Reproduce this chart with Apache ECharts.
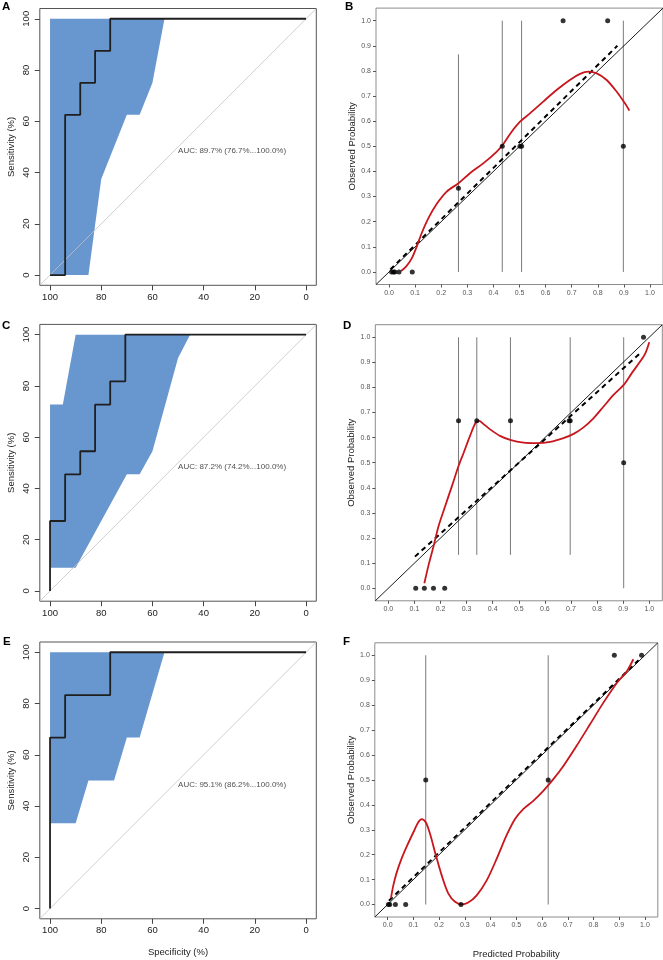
<!DOCTYPE html>
<html>
<head>
<meta charset="utf-8">
<script src="https://cdn.jsdelivr.net/npm/echarts@6/dist/echarts.min.js"></script>
<style>html,body{margin:0;padding:0;background:#fff}#c{width:663px;height:960px}</style>
</head>
<body>
<div id="c"></div>
<script>
// ---------- DATA ----------
var panelLetters = ['A', 'B', 'C', 'D', 'E', 'F'];
var rocTicks = [0, 20, 40, 60, 80, 100];
var calTicks = [0, 0.1, 0.2, 0.3, 0.4, 0.5, 0.6, 0.7, 0.8, 0.9, 1.0];

// ROC curves (specificity %, sensitivity %)
var rocA = [[100,0],[94.1,0],[94.1,62.5],[88.2,62.5],[88.2,75],[82.4,75],[82.4,87.5],[76.5,87.5],[76.5,100],[0,100]];
var rocC = [[100,0],[100,27.3],[94.1,27.3],[94.1,45.5],[88.2,45.5],[88.2,54.5],[82.4,54.5],[82.4,72.7],[76.5,72.7],[76.5,81.8],[70.6,81.8],[70.6,100],[0,100]];
var rocE = [[100,0],[100,66.7],[94.1,66.7],[94.1,83.3],[76.5,83.3],[76.5,100],[0,100]];
// confidence band outlines
var ciA = [[100,0],[100,100],[55.3,100],[60,75],[65,62.5],[70,62.5],[80,37.5],[85,0]];
var ciC = [[100,9.1],[100,72.7],[95,72.7],[90,100],[45.3,100],[50,90.9],[60,54.5],[65,45.5],[70,45.5],[90,9.1]];
var ciE = [[100,33.3],[100,100],[55.3,100],[65,66.7],[70,66.7],[75,50],[85,50],[90,33.3]];
var aucA = 'AUC: 89.7% (76.7%...100.0%)';
var aucC = 'AUC: 87.2% (74.2%...100.0%)';
var aucE = 'AUC: 95.1% (86.2%...100.0%)';
var aucPos = [50, 50];
var rocDiag = [[104,-4],[-4,104]];

// Calibration panels
var calDiag = [[-0.05,-0.05],[1.05,1.05]];
var ptsB = [[0.010,0],[0.017,0],[0.022,0],[0.038,0],[0.089,0],[0.266,0.333],[0.434,0.5],[0.502,0.5],[0.508,0.5],[0.667,1],[0.838,1],[0.898,0.5]];
var barsB = [[0.266,0,0.866],[0.434,0,1],[0.508,0,1],[0.898,0,1]];
var fitB = [[0.005,0.01],[0.875,0.9]];
var smoothB = [[0.046,0.004],[0.065,0.021],[0.087,0.054],[0.106,0.101],[0.125,0.154],[0.151,0.214],[0.183,0.271],[0.221,0.320],[0.266,0.353],[0.310,0.393],[0.361,0.432],[0.413,0.479],[0.438,0.509],[0.470,0.558],[0.502,0.598],[0.540,0.631],[0.591,0.678],[0.642,0.724],[0.693,0.764],[0.732,0.788],[0.764,0.797],[0.796,0.790],[0.834,0.764],[0.872,0.718],[0.904,0.671],[0.921,0.642]];

var ptsD = [[0.105,0],[0.138,0],[0.173,0],[0.216,0],[0.269,0.667],[0.339,0.667],[0.468,0.667],[0.693,0.667],[0.697,0.667],[0.902,0.5],[0.978,1]];
var barsD = [[0.269,0.133,1],[0.339,0.133,1],[0.468,0.133,1],[0.697,0.133,1],[0.902,0,1]];
var fitD = [[0.102,0.126],[0.972,0.943]];
var smoothD = [[0.138,0.020],[0.156,0.100],[0.173,0.166],[0.192,0.246],[0.217,0.325],[0.243,0.405],[0.269,0.487],[0.288,0.538],[0.313,0.607],[0.335,0.660],[0.348,0.667],[0.364,0.655],[0.390,0.633],[0.428,0.607],[0.467,0.591],[0.518,0.580],[0.569,0.578],[0.620,0.583],[0.671,0.598],[0.710,0.615],[0.748,0.641],[0.786,0.677],[0.825,0.724],[0.863,0.770],[0.902,0.810],[0.933,0.857],[0.965,0.903],[0.985,0.936],[1.000,0.980]];

var ptsF = [[0.003,0],[0.008,0],[0.030,0],[0.070,0],[0.285,0],[0.148,0.5],[0.624,0.5],[0.881,1],[0.987,1]];
var barsF = [[0.148,0,1],[0.624,0,1]];
var fitF = [[0.005,0.015],[0.975,0.98]];
var smoothF = [[0.013,0.027],[0.022,0.077],[0.035,0.128],[0.054,0.184],[0.076,0.237],[0.100,0.290],[0.119,0.330],[0.132,0.343],[0.148,0.330],[0.165,0.283],[0.184,0.210],[0.210,0.117],[0.236,0.044],[0.262,0.011],[0.288,0.001],[0.313,0.008],[0.346,0.037],[0.385,0.097],[0.424,0.184],[0.462,0.277],[0.495,0.343],[0.527,0.383],[0.566,0.416],[0.605,0.456],[0.644,0.503],[0.683,0.556],[0.734,0.636],[0.786,0.722],[0.838,0.809],[0.890,0.888],[0.929,0.935],[0.955,0.984]];

// ---------- LAYOUT ----------
var FONT = 'Liberation Sans, Arial, Helvetica, sans-serif';
var grids = [
  {left: 39.8, top: 8.5,  width: 276.5, height: 276.8},   // A
  {left: 376,  top: 8.1,  width: 287,   height: 276.4},   // B
  {left: 39.8, top: 324.4,width: 276.5, height: 276.8},   // C
  {left: 375.3,top: 324.7,width: 287,   height: 276.1},   // D
  {left: 39.8, top: 642,  width: 276.5, height: 276.8},   // E
  {left: 374.8,top: 642.8,width: 283,   height: 274.7}    // F
];
var letterPos = [[2,1],[345,1],[2,320],[343,320],[3,636],[343,636]];

var gridOpts = grids.map(function (g, i) {
  var roc = (i % 2 === 0);
  return {left: g.left, top: g.top, width: g.width, height: g.height, show: true,
    borderColor: roc ? '#555' : '#8c8c8c', borderWidth: 1, backgroundColor: 'transparent', containLabel: false};
});

var xAxes = [], yAxes = [];
grids.forEach(function (g, i) {
  var roc = (i % 2 === 0);
  if (roc) {
    xAxes.push({type: 'value', gridIndex: i, min: -4, max: 104, inverse: true, position: 'bottom',
      axisLine: {show: false, onZero: false}, splitLine: {show: false},
      axisTick: {show: true, length: 5, lineStyle: {color: '#444'}, customValues: rocTicks},
      axisLabel: {show: true, customValues: rocTicks, margin: 7, fontSize: 9.5, color: '#222', fontFamily: FONT},
      name: i === 4 ? 'Specificity (%)' : '', nameLocation: 'middle', nameGap: 29,
      nameTextStyle: {fontSize: 9.5, color: '#222', fontFamily: FONT}});
    yAxes.push({type: 'value', gridIndex: i, min: -4, max: 104, position: 'left',
      axisLine: {show: false, onZero: false}, splitLine: {show: false},
      axisTick: {show: true, length: 5, lineStyle: {color: '#444'}, customValues: rocTicks},
      axisLabel: {show: true, customValues: rocTicks, rotate: 90, margin: 8, fontSize: 9.5, color: '#222', fontFamily: FONT},
      name: 'Sensitivity (%)', nameLocation: 'middle', nameGap: 23, nameRotate: 90,
      nameTextStyle: {fontSize: 9.5, color: '#222', fontFamily: FONT}});
  } else {
    var fmt = function (v) { return v.toFixed(1); };
    xAxes.push({type: 'value', gridIndex: i, min: -0.05, max: 1.05, position: 'bottom',
      axisLine: {show: false, onZero: false}, splitLine: {show: false},
      axisTick: {show: true, length: 3, lineStyle: {color: '#555'}, customValues: calTicks},
      axisLabel: {show: true, customValues: calTicks, formatter: fmt, margin: 5, fontSize: 7, color: '#555', fontFamily: FONT},
      name: i === 5 ? 'Predicted Probability' : '', nameLocation: 'middle', nameGap: 32,
      nameTextStyle: {fontSize: 9.5, color: '#222', fontFamily: FONT}});
    yAxes.push({type: 'value', gridIndex: i, min: -0.05, max: 1.05, position: 'left',
      axisLine: {show: false, onZero: false}, splitLine: {show: false},
      axisTick: {show: true, length: 3, lineStyle: {color: '#555'}, customValues: calTicks},
      axisLabel: {show: true, customValues: calTicks, formatter: fmt, margin: 5, fontSize: 7, color: '#555', fontFamily: FONT},
      name: 'Observed Probability', nameLocation: 'middle', nameGap: 14, nameRotate: 90,
      nameTextStyle: {fontSize: 9.5, color: '#222', fontFamily: FONT}});
  }
});

function polygonSeries(idx, poly) {
  return {type: 'custom', xAxisIndex: idx, yAxisIndex: idx, z: 1, silent: true,
    data: poly, encode: {x: 0, y: 1},
    renderItem: function (params, api) {
      if (params.dataIndex !== 0) return null;
      var pts = poly.map(function (p) { return api.coord(p); });
      return {type: 'polygon', shape: {points: pts}, style: {fill: 'rgba(28,97,182,0.667)', stroke: null}};
    }};
}
function barsSeries(idx, bars) {
  return {type: 'custom', xAxisIndex: idx, yAxisIndex: idx, z: 2, silent: true,
    data: bars, encode: {x: 0, y: [1, 2]},
    renderItem: function (params, api) {
      var a = api.coord([api.value(0), api.value(1)]);
      var b = api.coord([api.value(0), api.value(2)]);
      return {type: 'line', shape: {x1: a[0], y1: a[1], x2: b[0], y2: b[1]}, style: {stroke: '#7a7a7a', lineWidth: 1}};
    }};
}
function lineSeries(idx, data, color, width, z, extra) {
  var s = {type: 'line', xAxisIndex: idx, yAxisIndex: idx, data: data, symbol: 'none', z: z, silent: true,
    lineStyle: {color: color, width: width}};
  if (extra) for (var k in extra) s[k] = extra[k];
  return s;
}
function aucSeries(idx, text) {
  return {type: 'scatter', xAxisIndex: idx, yAxisIndex: idx, data: [aucPos], symbolSize: 0, z: 6, silent: true,
    label: {show: true, position: [0, 0], align: 'left', verticalAlign: 'top', formatter: text,
      fontSize: 8, color: '#222', fontFamily: FONT}};
}
function pointSeries(idx, data) {
  return {type: 'scatter', xAxisIndex: idx, yAxisIndex: idx, data: data, symbolSize: 5, z: 6, silent: true,
    itemStyle: {color: '#000'}};
}

var series = [];
[[0, rocA, ciA, aucA], [2, rocC, ciC, aucC], [4, rocE, ciE, aucE]].forEach(function (r) {
  series.push(polygonSeries(r[0], r[2]));
  series.push(lineSeries(r[0], rocDiag, '#c4c4c4', 0.8, 3));
  series.push(lineSeries(r[0], r[1], '#1f1f1f', 1.8, 4));
  series.push(aucSeries(r[0], r[3]));
});
[[1, ptsB, barsB, fitB, smoothB], [3, ptsD, barsD, fitD, smoothD], [5, ptsF, barsF, fitF, smoothF]].forEach(function (c) {
  series.push(barsSeries(c[0], c[2]));
  series.push(lineSeries(c[0], calDiag, '#000', 0.9, 3));
  series.push(lineSeries(c[0], c[3], '#000', 2, 3, {lineStyle: {color: '#000', width: 2, type: [5, 4]}}));
  series.push(lineSeries(c[0], c[4], '#c8161d', 1.8, 4, {smooth: 0.3}));
  series.push(pointSeries(c[0], c[1]));
});

var titles = panelLetters.map(function (t, i) {
  return {text: t, left: letterPos[i][0], top: letterPos[i][1], padding: 0,
    textStyle: {fontSize: 11.5, fontWeight: 'bold', color: '#000', fontFamily: FONT}};
});

var chart = echarts.init(document.getElementById('c'), null, {renderer: 'canvas'});
chart.setOption({
  animation: false,
  backgroundColor: '#fff',
  title: titles,
  grid: gridOpts,
  xAxis: xAxes,
  yAxis: yAxes,
  series: series
});
</script>
</body>
</html>
